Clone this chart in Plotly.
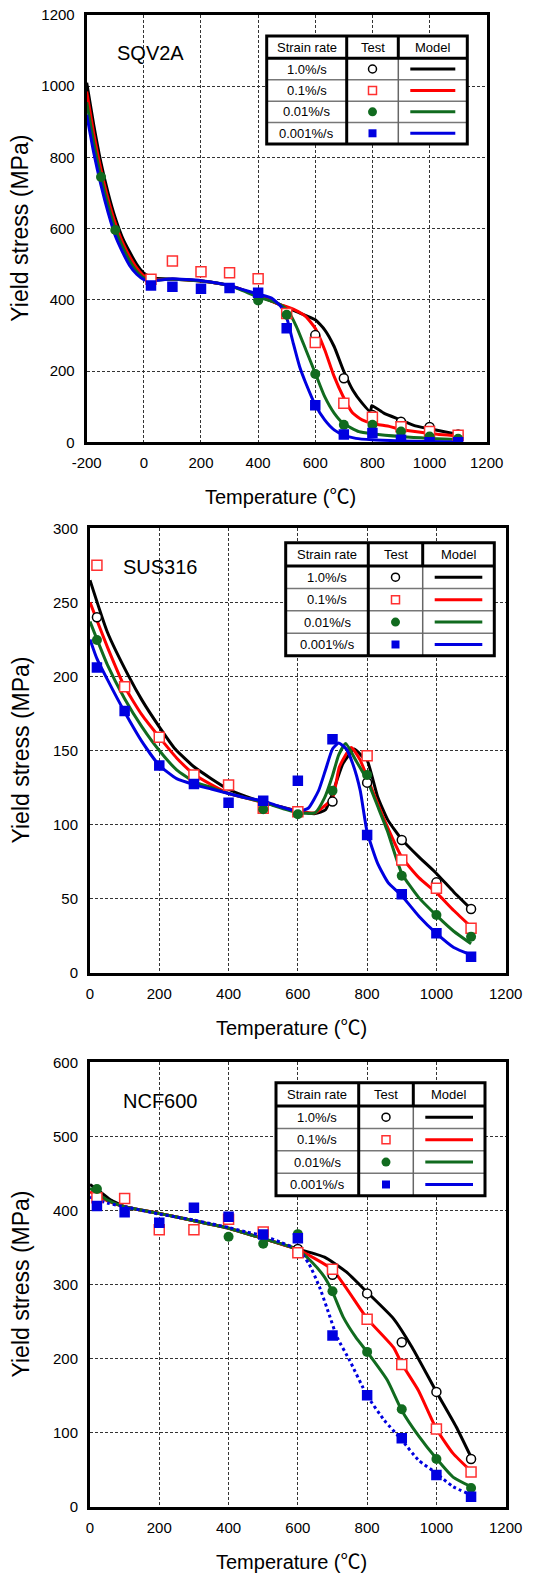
import plotly.graph_objects as go

W, H = 558, 1576

# ---------------- DATA ----------------
RATES = ["1.0%/s", "0.1%/s", "0.01%/s", "0.001%/s"]
PANEL_NAMES = ["SQV2A", "SUS316", "NCF600"]

# ---- SQV2A ----
SQV_TEST_T = [25, 100, 200, 300, 400, 500, 600, 700, 800, 900, 1000, 1100]
SQV_TEST_BLACK = [None, None, None, None, None, None, 301, 180, 77, 58, 43, 22]
SQV_TEST_RED = [458, 509, 479, 476, 459, 362, 280, 110, 70, 44, 30, 20]
SQV_TEST_GREEN_T = [-150, -100, 400, 500, 600, 700, 800, 900, 1000, 1100]
SQV_TEST_GREEN = [745, 596, 398, 358, 192, 49, 49, 30, 16, 10]
SQV_TEST_BLUE = [440, 437, 431, 433, 420, 320, 104, 22, 26, 7, 0, 0]

SQV_BLACK_T = [-200, -175, -150, -125, -100, -75, -50, -25, 0, 20, 40, 100, 200, 300, 400, 470, 534, 600, 633, 666, 698, 731, 764, 793, 798, 840, 895, 950, 1000, 1100]
SQV_BLACK_Y = [1010, 890, 785, 700, 630, 575, 535, 500, 475, 466, 461, 458, 453, 440, 412, 389, 367, 344, 316, 269, 203, 147, 110, 86, 103, 82, 64, 46, 38, 22]
SQV_RED_T = [-200, -175, -150, -125, -100, -75, -50, -25, 0, 25, 50, 100, 200, 300, 400, 469, 523, 567, 600, 633, 666, 698, 731, 764, 800, 862, 906, 1000, 1100]
SQV_RED_Y = [985, 865, 765, 682, 615, 562, 522, 490, 468, 460, 457, 458, 453, 440, 412, 389, 374, 353, 320, 260, 185, 128, 82, 63, 53, 44, 35, 25, 18]
SQV_GREEN_T = [-200, -175, -150, -125, -100, -75, -50, -25, 0, 25, 50, 100, 200, 300, 400, 469, 502, 534, 567, 600, 633, 666, 698, 753, 800, 900, 1000, 1100]
SQV_GREEN_Y = [955, 840, 745, 665, 598, 550, 510, 480, 462, 457, 456, 458, 453, 440, 408, 390, 372, 325, 260, 194, 128, 82, 53, 30, 24, 16, 11, 8]
SQV_BLUE_T = [-200, -175, -150, -125, -100, -75, -50, -25, 0, 25, 50, 100, 150, 200, 250, 300, 350, 400, 447, 480, 502, 523, 545, 567, 600, 633, 666, 698, 742, 800, 900, 1000, 1100]
SQV_BLUE_Y = [920, 812, 722, 645, 580, 535, 497, 472, 457, 453, 455, 459, 457, 454, 448, 440, 428, 416, 405, 381, 344, 278, 213, 166, 105, 63, 35, 21, 11, 7, 4, 2, 1]

# ---- SUS316 ----
SUS_TEST_T = [20, 100, 200, 300, 400, 500, 600, 700, 800, 900, 1000, 1100]
SUS_TEST_BLACK = [240, None, None, None, None, None, None, 115.5, 128.3, 89.6, 61, 43]
SUS_TEST_RED = [275, 193, 159, 133.5, 126.7, 111, 108.7, None, 146.5, 76, 57, 30]
SUS_TEST_GREEN = [224.6, None, None, None, None, 110.3, 107, 122.9, 133.5, 65.5, 39, 24.3]
SUS_TEST_BLUE = [206, 176.7, 139.8, 127.4, 114.8, 116, 129.6, 157.6, 93, 52.9, 26.6, 10.8]

SUS_BLACK_T = [0, 50, 112, 150, 200, 246, 300, 350, 398, 450, 500, 550, 600, 650, 680, 700, 730, 763, 790, 800, 830, 860, 900, 950, 1000, 1050, 1100]
SUS_BLACK_Y = [265, 230, 200, 184, 166, 151, 139, 131, 124, 119, 115, 112, 109, 107.4, 110, 121, 141, 151, 145, 143.5, 119, 103, 90, 78, 67, 54.5, 43]
SUS_RED_T = [0, 50, 100, 150, 200, 250, 300, 350, 400, 500, 600, 650, 700, 720, 754, 780, 800, 850, 900, 950, 1000, 1050, 1100]
SUS_RED_Y = [250, 220, 193, 174, 159, 145, 134, 127, 121, 115, 109, 108, 118, 139, 152, 143.5, 132, 103, 78, 64, 54, 42, 31]
SUS_GREEN_T = [0, 50, 100, 150, 200, 250, 300, 350, 400, 500, 600, 650, 677, 700, 718, 738, 767, 800, 831, 858, 900, 948, 1000, 1050, 1100]
SUS_GREEN_Y = [237, 208, 185, 166, 150, 137, 129, 125, 121, 115, 108, 108, 118, 133, 147, 154.7, 143.5, 130, 112, 96, 67, 51, 38.7, 28, 19.6]
SUS_BLUE_T = [0, 20, 50, 100, 150, 200, 250, 300, 350, 400, 450, 500, 550, 600, 630, 660, 680, 700, 718, 740, 760, 780, 800, 830, 860, 900, 950, 1000, 1050, 1100]
SUS_BLUE_Y = [225, 212, 198, 176, 156, 140, 131, 127, 124, 121, 118, 116, 112, 109, 111, 123, 137, 151, 155, 151, 140, 123, 95, 74, 61, 52, 38, 26.5, 17, 12]

# ---- NCF600 ----
NCF_TEST_T = [20, 100, 200, 300, 400, 500, 600, 700, 800, 900, 1000, 1100]
NCF_TEST_BLACK = [None, None, None, None, None, None, 348, 313, 288, 222, 155, 64.4]
NCF_TEST_RED = [417, 416, 374, 374, 388, 371, 343, 320.5, 253, 192, 105, 47]
NCF_TEST_GREEN = [429, None, None, None, 364.5, 355, 368, 291, 209, 131.5, 64.4, 25.2]
NCF_TEST_BLUE = [406, 397.5, 383.4, 403.7, 391.5, 367.6, 362.4, 231, 150.4, 92.3, 42.8, 13.5]

NCF_BLACK_T = [0, 30, 60, 83, 100, 200, 300, 400, 500, 600, 677, 740, 799, 876, 930, 1000, 1057, 1100]
NCF_BLACK_Y = [435, 425, 414, 409, 405, 396, 386, 376, 362, 348, 337, 317, 290, 254, 215, 155, 108, 67]
NCF_RED_T = [0, 50, 100, 200, 300, 400, 500, 600, 700, 800, 876, 900, 948, 1000, 1048, 1100]
NCF_RED_Y = [425, 413, 405, 396, 386, 376, 362, 347, 320, 254, 215, 193, 157, 105, 72, 48]
NCF_GREEN_T = [0, 50, 100, 200, 300, 400, 500, 600, 641, 677, 700, 731, 767, 800, 858, 900, 948, 1000, 1048, 1100]
NCF_GREEN_Y = [430, 414, 405, 396, 386, 376, 362, 347, 330, 310, 290, 256, 229, 209, 171, 130, 96, 65, 40, 27]
NCF_BLUE_T = [0, 50, 100, 150, 200, 250, 300, 350, 400, 450, 500, 550, 600, 632, 663, 690, 713, 749, 800, 849, 900, 948, 1000, 1048, 1100]
NCF_BLUE_Y = [418, 410, 405, 400, 395, 391, 387, 382, 377, 371, 366, 357, 347, 328, 296, 260, 229, 198, 150, 117, 90, 63, 45, 27, 16]

X_TICKS_1 = [-200, 0, 200, 400, 600, 800, 1000, 1200]
X_TICKS = [0, 200, 400, 600, 800, 1000, 1200]
Y_TICKS_1 = [0, 200, 400, 600, 800, 1000, 1200]
Y_TICKS_2 = [0, 50, 100, 150, 200, 250, 300]
Y_TICKS_3 = [0, 100, 200, 300, 400, 500, 600]

# ---------------- STYLE ----------------
BLACK = "#000000"
RED = "#ff0000"
GREEN = "#116b1f"
BLUE = "#0000e0"
FONT = "Liberation Sans, Arial, sans-serif"


def px(x):
    return x / W


def py(y):
    return 1 - y / H


# pixel layout of each panel: left, right, top, bottom
PANELS = [
    dict(l=86.7, r=486.7, t=15, b=442.3, xr=[-200, 1200], yr=[0, 1200], xt=X_TICKS_1, yt=Y_TICKS_1),
    dict(l=90, r=505.7, t=528.3, b=972.7, xr=[0, 1200], yr=[0, 300], xt=X_TICKS, yt=Y_TICKS_2),
    dict(l=90, r=505.7, t=1062.3, b=1506.7, xr=[0, 1200], yr=[0, 600], xt=X_TICKS, yt=Y_TICKS_3),
]

fig = go.Figure()


def add_model(i, t, y, color, dash="solid"):
    xa = "x" if i == 0 else f"x{i+1}"
    ya = "y" if i == 0 else f"y{i+1}"
    fig.add_trace(go.Scatter(x=t, y=y, mode="lines", xaxis=xa, yaxis=ya,
                             line=dict(color=color, width=3, dash=dash, shape="spline", smoothing=0.5),
                             showlegend=False, hoverinfo="skip"))


def add_test(i, t, y, kind):
    xa = "x" if i == 0 else f"x{i+1}"
    ya = "y" if i == 0 else f"y{i+1}"
    if kind == "black":
        m = dict(symbol="circle", size=9, color="white", line=dict(color=BLACK, width=1.5))
    elif kind == "red":
        m = dict(symbol="square", size=10, color="white", line=dict(color="#ff3030", width=1.5))
    elif kind == "green":
        m = dict(symbol="circle", size=10, color=GREEN, line=dict(width=0))
    else:
        m = dict(symbol="square", size=10.5, color=BLUE, line=dict(width=0))
    fig.add_trace(go.Scatter(x=t, y=y, mode="markers", xaxis=xa, yaxis=ya, marker=m,
                             showlegend=False, hoverinfo="skip"))


# SQV2A
add_model(0, SQV_BLACK_T, SQV_BLACK_Y, BLACK)
add_model(0, SQV_RED_T, SQV_RED_Y, RED)
add_model(0, SQV_GREEN_T, SQV_GREEN_Y, GREEN)
add_model(0, SQV_BLUE_T, SQV_BLUE_Y, BLUE)
add_test(0, SQV_TEST_T, SQV_TEST_BLACK, "black")
add_test(0, SQV_TEST_T, SQV_TEST_RED, "red")
add_test(0, SQV_TEST_GREEN_T, SQV_TEST_GREEN, "green")
add_test(0, SQV_TEST_T, SQV_TEST_BLUE, "blue")

# SUS316
add_model(1, SUS_BLACK_T, SUS_BLACK_Y, BLACK)
add_model(1, SUS_RED_T, SUS_RED_Y, RED)
add_model(1, SUS_GREEN_T, SUS_GREEN_Y, GREEN)
add_model(1, SUS_BLUE_T, SUS_BLUE_Y, BLUE)
add_test(1, SUS_TEST_T, SUS_TEST_BLACK, "black")
add_test(1, SUS_TEST_T, SUS_TEST_RED, "red")
add_test(1, SUS_TEST_T, SUS_TEST_GREEN, "green")
add_test(1, SUS_TEST_T, SUS_TEST_BLUE, "blue")

# NCF600
add_model(2, NCF_BLACK_T, NCF_BLACK_Y, BLACK)
add_model(2, NCF_RED_T, NCF_RED_Y, RED)
add_model(2, NCF_GREEN_T, NCF_GREEN_Y, GREEN)
add_model(2, NCF_BLUE_T, NCF_BLUE_Y, BLUE, dash="dot")
add_test(2, NCF_TEST_T, NCF_TEST_BLACK, "black")
add_test(2, NCF_TEST_T, NCF_TEST_RED, "red")
add_test(2, NCF_TEST_T, NCF_TEST_GREEN, "green")
add_test(2, NCF_TEST_T, NCF_TEST_BLUE, "blue")

layout = dict(width=W, height=H, margin=dict(l=0, r=0, t=0, b=0),
              paper_bgcolor="white", plot_bgcolor="white", showlegend=False,
              font=dict(family=FONT, color="black"))

for i, p in enumerate(PANELS):
    sx = "" if i == 0 else str(i + 1)
    common = dict(showgrid=True, gridcolor="#333333", gridwidth=1, griddash="3px,2px",
                  showline=True, linecolor="black", linewidth=3, mirror=True,
                  ticks="", zeroline=False, automargin=False, fixedrange=True,
                  tickfont=dict(size=15, family=FONT, color="black"))
    layout["xaxis" + sx] = dict(domain=[px(p["l"]), px(p["r"])], range=p["xr"], tickvals=p["xt"],
                                ticktext=[str(v) for v in p["xt"]],
                                anchor="y" + sx, ticklabelstandoff=5, **common)
    layout["yaxis" + sx] = dict(domain=[py(p["b"]), py(p["t"])], range=p["yr"], tickvals=p["yt"],
                                ticktext=[str(v) for v in p["yt"]],
                                anchor="x" + sx, ticklabelstandoff=6, **common)

fig.update_layout(**layout)

annotations = []
shapes = []

# axis titles and panel names
TITLE_POS = [(150, 53), (160, 566.7), (160, 1100.7)]
for i, p in enumerate(PANELS):
    cy = (p["t"] + p["b"]) / 2
    annotations.append(dict(x=px(20), y=py(cy), xref="paper", yref="paper", text="Yield stress (MPa)",
                            textangle=-90, showarrow=False, font=dict(size=23, family=FONT),
                            xanchor="center", yanchor="middle"))
    cx = (p["l"] + p["r"]) / 2 - 6
    annotations.append(dict(x=px(cx), y=py(p["b"] + 55), xref="paper", yref="paper",
                            text="Temperature (℃)", showarrow=False,
                            font=dict(size=20, family=FONT + ", Noto Sans CJK JP"),
                            xanchor="center", yanchor="middle"))
    tx, ty = TITLE_POS[i]
    annotations.append(dict(x=px(tx), y=py(ty), xref="paper", yref="paper", text=PANEL_NAMES[i],
                            showarrow=False, font=dict(size=20, family=FONT),
                            xanchor="center", yanchor="middle"))

# legend tables
TABLES = [
    dict(x0=266.7, x1=467.3, y0=36, y1=144, c1=346.7, c2=398.3, hb=58.3),
    dict(x0=285.7, x1=494.3, y0=542.7, y1=655.7, c1=368.3, c2=422.7, hb=566),
    dict(x0=276, x1=485, y0=1082.7, y1=1195.7, c1=358.7, c2=413.3, hb=1106),
]
LINE_COLORS = [BLACK, RED, GREEN, BLUE]


def line(x0, y0, x1, y1, color, width):
    shapes.append(dict(type="line", xref="paper", yref="paper", x0=px(x0), y0=py(y0), x1=px(x1), y1=py(y1),
                       line=dict(color=color, width=width), layer="above"))


for tb in TABLES:
    x0, x1, y0, y1, c1, c2, hb = tb["x0"], tb["x1"], tb["y0"], tb["y1"], tb["c1"], tb["c2"], tb["hb"]
    shapes.append(dict(type="rect", xref="paper", yref="paper", x0=px(x0), x1=px(x1), y0=py(y1), y1=py(y0),
                       fillcolor="white", line=dict(width=0), layer="above"))
    rh = (y1 - hb) / 4
    for k in range(1, 4):
        line(x0, hb + k * rh, x1, hb + k * rh, "#777777", 1.5)
    line(c2, hb, c2, y1, "#666666", 1.5)
    line(c2, y0, c2, hb, BLACK, 3)
    line(c1, y0, c1, y1, BLACK, 3)
    line(x0, hb, x1, hb, BLACK, 3)
    shapes.append(dict(type="rect", xref="paper", yref="paper", x0=px(x0), x1=px(x1), y0=py(y1), y1=py(y0),
                       line=dict(color=BLACK, width=3), layer="above"))
    hy = (y0 + hb) / 2
    for txt, cx in [("Strain rate", (x0 + c1) / 2), ("Test", (c1 + c2) / 2), ("Model", (c2 + x1) / 2)]:
        annotations.append(dict(x=px(cx), y=py(hy), xref="paper", yref="paper", text=txt, showarrow=False,
                                font=dict(size=13, family=FONT), xanchor="center", yanchor="middle"))
    tcx = (c1 + c2) / 2
    for k in range(4):
        ry = hb + (k + 0.5) * rh
        annotations.append(dict(x=px((x0 + c1) / 2), y=py(ry), xref="paper", yref="paper", text=RATES[k],
                                showarrow=False, font=dict(size=13, family=FONT),
                                xanchor="center", yanchor="middle"))
        line(c2 + 12, ry, x1 - 12, ry, LINE_COLORS[k], 3)
        if k == 0:
            shapes.append(dict(type="circle", xref="paper", yref="paper", x0=px(tcx - 4), x1=px(tcx + 4),
                               y0=py(ry + 4), y1=py(ry - 4), line=dict(color=BLACK, width=1.5),
                               fillcolor="white", layer="above"))
        elif k == 1:
            shapes.append(dict(type="rect", xref="paper", yref="paper", x0=px(tcx - 4), x1=px(tcx + 4),
                               y0=py(ry + 4), y1=py(ry - 4), line=dict(color="#ff3030", width=1.5),
                               fillcolor="white", layer="above"))
        elif k == 2:
            shapes.append(dict(type="circle", xref="paper", yref="paper", x0=px(tcx - 4.5), x1=px(tcx + 4.5),
                               y0=py(ry + 4.5), y1=py(ry - 4.5), line=dict(width=0),
                               fillcolor=GREEN, layer="above"))
        else:
            shapes.append(dict(type="rect", xref="paper", yref="paper", x0=px(tcx - 4), x1=px(tcx + 4),
                               y0=py(ry + 4), y1=py(ry - 4), line=dict(width=0),
                               fillcolor=BLUE, layer="above"))

fig.update_layout(annotations=annotations, shapes=shapes)
fig.write_html("out.html")
